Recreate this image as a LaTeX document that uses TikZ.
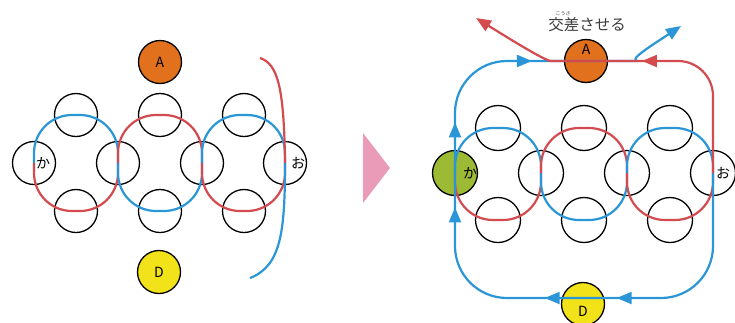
\documentclass[tikz,border=0pt]{standalone}
\usepackage{fontspec}
\setmainfont{Noto Sans CJK JP}
\usetikzlibrary{arrows.meta,decorations.markings,calc}
\definecolor{KnotBlue}{HTML}{2A96D7}
\definecolor{KnotRed}{HTML}{D44B4F}
\definecolor{KnotOrange}{HTML}{E2711D}
\definecolor{KnotYellow}{HTML}{F2E21A}
\definecolor{KnotGreen}{HTML}{9DBA35}
\definecolor{KnotPink}{HTML}{E99BB8}
\definecolor{KnotGrey}{HTML}{3C3C3C}

\begin{document}
\begin{tikzpicture}[
            x=1pt, y=-1pt,
            ring/.style={circle, draw=black, line width=1.3pt, minimum size=43pt, inner sep=0pt},
            bigring/.style={ring, minimum size=45pt},
            kana/.style={font=\fontsize{14}{14}\selectfont, text=black},
            letter/.style={font=\fontsize{14}{14}\selectfont, text=black},
            note/.style={font=\fontsize{15.5}{16}\selectfont, text=KnotGrey, inner sep=0pt},
            furigana/.style={font=\fontsize{5}{5}\selectfont, text=KnotGrey, inner sep=0pt},
            thread/.style={line width=2.2pt, rounded corners=38pt},
            tip/.style={-{Triangle[length=15pt,width=12pt]}},
        ]
        \useasboundingbox (0,0) rectangle (735,322);

        % left panel
        \foreach \i/\x in {1/76,2/160,3/244} {
            \node[ring] (lt\i) at (\x,115) {};
            \node[ring] (lb\i) at (\x,211) {};
        }
        \node[ring] (lm1) at (118,163) {};
        \node[ring] (lm2) at (202,163) {};
        \node[ring, label={[kana,xshift=9pt]center:か}] (lka) at (34,163) {};
        \node[ring, label={[kana,xshift=13pt]center:お}] (lo) at (285,163) {};
        \node[ring, fill=KnotOrange, label={[letter]center:A}] (lA) at (160,62) {};
        \node[ring, fill=KnotYellow, label={[letter]center:D}] (lD) at (159,272) {};

        \foreach \a/\b/\up/\down in {lka/lm1/KnotBlue/KnotRed, lm1/lm2/KnotRed/KnotBlue, lm2/lo/KnotBlue/KnotRed} {
            \draw[thread, draw=\up] (\a.center) -- (\a |- lt1) -- (\b |- lt1) -- (\b.center);
            \draw[thread, draw=\down] (\a.center) -- (\a |- lb1) -- (\b |- lb1) -- (\b.center);
        }
        \coordinate (lred) at (260,58);
        \coordinate (lblue) at (250,278);
        \draw[thread, draw=KnotRed] (lred) .. controls (278,64) and (284,88) .. (lo.center);
        \draw[thread, draw=KnotBlue] (lo.center) .. controls (285,232) and (281,266) .. (lblue);

        \fill[KnotPink] (363,133) -- (390,168) -- (363,203) -- cycle;

        % right panel
        \foreach \i/\x in {1/498,2/584,3/670} {
            \node[bigring] (rt\i) at (\x,128) {};
            \node[bigring] (rb\i) at (\x,220) {};
        }
        \node[bigring] (rm1) at (541,173) {};
        \node[bigring] (rm2) at (627,173) {};
        \node[bigring, fill=KnotGreen, label={[kana,xshift=15pt]center:か}] (rka) at (455,173) {};
        \node[bigring, label={[kana,xshift=10pt]center:お}] (ro) at (713,173) {};
        \node[ring, fill=KnotOrange, label={[letter,yshift=12pt]center:A}] (rA) at (586,61) {};
        \node[ring, fill=KnotYellow, label={[letter,yshift=-7pt]center:D}] (rD) at (583,304) {};

        \node[note] (kousa) at (587,25) {交差させる};
        \node[furigana, anchor=south] (furi) at ([xshift=15pt,yshift=1.5pt]kousa.north west) {こうさ};

        \foreach \a/\b/\up/\down in {rka/rm1/KnotBlue/KnotRed, rm1/rm2/KnotRed/KnotBlue, rm2/ro/KnotBlue/KnotRed} {
            \draw[thread, draw=\up] (\a.center) -- (\a |- rt1) -- (\b |- rt1) -- (\b.center);
            \draw[thread, draw=\down] (\a.center) -- (\a |- rb1) -- (\b |- rb1) -- (\b.center);
        }

        \coordinate (dline) at ([yshift=6pt]rD.center);
        \coordinate (bluend) at (681,26);
        \coordinate (redend) at (476,18);
        \draw[thread, draw=KnotBlue, rounded corners=52pt, tip,
            decoration={markings,
                    mark=at position 199pt with {\arrow{Triangle[length=15pt,width=12pt]}},
                    mark=at position 271pt with {\arrow{Triangle[length=15pt,width=12pt]}},
                    mark=at position 429pt with {\arrow{Triangle[length=15pt,width=12pt]}},
                    mark=at position 514pt with {\arrow{Triangle[length=15pt,width=12pt]}},
                    mark=at position 630pt with {\arrow{Triangle[length=15pt,width=12pt]}}},
            postaction={decorate}]
            (ro.center) -- (ro |- dline) -- (rka |- dline) -- (rka |- rA) -- (rA.center)
            .. controls (626,61) and (654,44) .. (bluend);
        \draw[thread, draw=KnotRed, rounded corners=35pt, tip,
            decoration={markings,
                    mark=at position 168pt with {\arrow{Triangle[length=15pt,width=12pt]}}},
            postaction={decorate}]
            (ro.center) -- (ro |- rA) -- (rA.center)
            .. controls (545,61) and (505,36) .. (redend);

    \end{tikzpicture}
\end{document}
